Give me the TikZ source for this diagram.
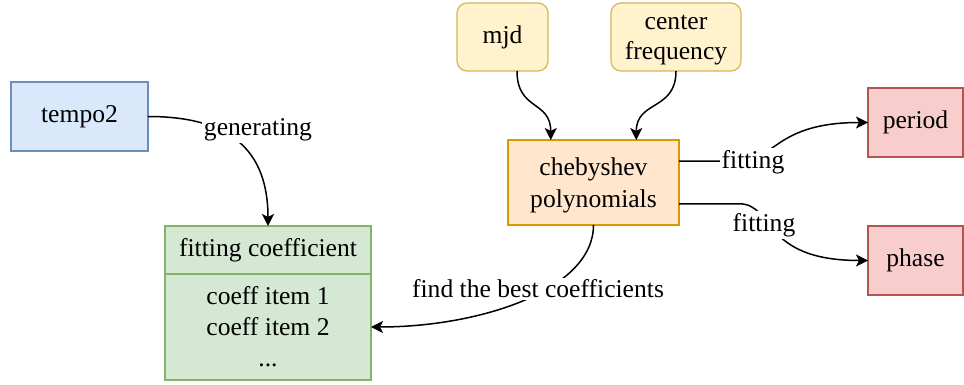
\documentclass[tikz,border=0pt]{standalone}
\usepackage{fontspec}
\setmainfont{Liberation Serif}
\usepackage{tikz}
\usetikzlibrary{arrows.meta,positioning,calc}
\definecolor{timingBlue}{HTML}{DAE8FC}
\definecolor{timingBlueLine}{HTML}{6C8EBF}
\definecolor{timingGreen}{HTML}{D5E8D4}
\definecolor{timingGreenLine}{HTML}{82B366}
\definecolor{timingYellow}{HTML}{FFF2CC}
\definecolor{timingYellowLine}{HTML}{D6B656}
\definecolor{timingOrange}{HTML}{FFE6CC}
\definecolor{timingOrangeLine}{HTML}{D79B00}
\definecolor{timingRed}{HTML}{F8CECC}
\definecolor{timingRedLine}{HTML}{B85450}
\tikzset{
  box/.style={
    rectangle,
    line width=0.6pt,
    outer sep=0pt,
    inner sep=2pt,
    align=center,
    font=\fontsize{12.8}{15}\selectfont
  },
  toolbox/.style={
    box,
    draw=timingBlueLine,
    fill=timingBlue,
    minimum width=68.5pt,
    minimum height=34.5pt
  },
  coeffhead/.style={
    box,
    draw=timingGreenLine,
    fill=timingGreen,
    minimum width=103pt,
    minimum height=24pt
  },
  coeffbody/.style={
    box,
    draw=timingGreenLine,
    fill=timingGreen,
    minimum width=103pt,
    minimum height=53pt,
    font=\fontsize{12.8}{15.5}\selectfont
  },
  inputbox/.style={
    box,
    rounded corners=5pt,
    draw=timingYellowLine,
    fill=timingYellow,
    minimum width=45.5pt,
    minimum height=34pt
  },
  polybox/.style={
    box,
    draw=timingOrangeLine,
    fill=timingOrange,
    minimum width=85.5pt,
    minimum height=42.5pt,
    text depth=0pt,
    font=\fontsize{12.8}{16}\selectfont
  },
  resultbox/.style={
    box,
    draw=timingRedLine,
    fill=timingRed,
    minimum width=47.5pt,
    minimum height=34.5pt
  },
  arrow/.style={
    -{Stealth[length=6pt,width=6pt,inset=1.5pt]},
    line width=0.75pt,
    draw=black
  },
  edgelabel/.style={
    fill=white,
    inner sep=1pt,
    font=\fontsize{12.8}{15}\selectfont
  }
}

\begin{document}
\begin{tikzpicture}[x=0.5pt,y=-0.5pt]
  \useasboundingbox (0,0) rectangle (964,385);

  \node[toolbox] (tempo) at (79.5,116.5) {tempo2};
  \node[coeffhead] (coeffhead) at (268,250) {fitting coefficient};
  \node[coeffbody,below=0pt of coeffhead] (coeffbody) {coeff item 1\\coeff item 2\\...};
  \node[inputbox] (mjd) at (502.5,37) {mjd};
  \node[inputbox,minimum width=65pt,text depth=0pt] (freq) at (676,37) {center\\frequency};
  \node[polybox] (cheb) at (593.5,182.5) {chebyshev\\polynomials};
  \node[resultbox] (period) at (915.5,122.5) {period};
  \node[resultbox,below=34.5pt of period] (phase) {phase};

  % exit points on the polynomial box
  \coordinate (chebTopL) at ($(cheb.north west)!0.25!(cheb.north east)$);
  \coordinate (chebTopR) at ($(cheb.north west)!0.75!(cheb.north east)$);
  \coordinate (chebOutA) at ($(cheb.north east)!0.25!(cheb.south east)$);
  \coordinate (chebOutB) at ($(cheb.north east)!0.75!(cheb.south east)$);

  \draw[arrow] (tempo.east) .. controls +(82,0) and +(0,-76) .. (coeffhead.north);
  \draw[arrow] ($(mjd.south)+(14.5,0)$) .. controls +(0,40) and +(0,-40) .. (chebTopL);
  \draw[arrow] (freq.south) .. controls +(0,40) and +(0,-40) .. (chebTopR);
  \draw[arrow] (chebOutA) -- +(60,0) .. controls +(36,0) and +(-93,0) .. (period.west);
  \draw[arrow] (chebOutB) -- +(60,0) .. controls +(36,0) and +(-108,0) .. (phase.west);
  \draw[arrow] (cheb.south) .. controls +(0,65) and +(109,0) .. (coeffbody.east);

  % labels sit on top of the curves
  \node[edgelabel] (genlabel) at (258,130) {generating};
  \node[edgelabel] (fitperiod) at (753,162) {fitting};
  \node[edgelabel] (fitphase) at (764,225) {fitting};
  \node[edgelabel] (bestlabel) at (538,289) {find the best coefficients};
\end{tikzpicture}
\end{document}
